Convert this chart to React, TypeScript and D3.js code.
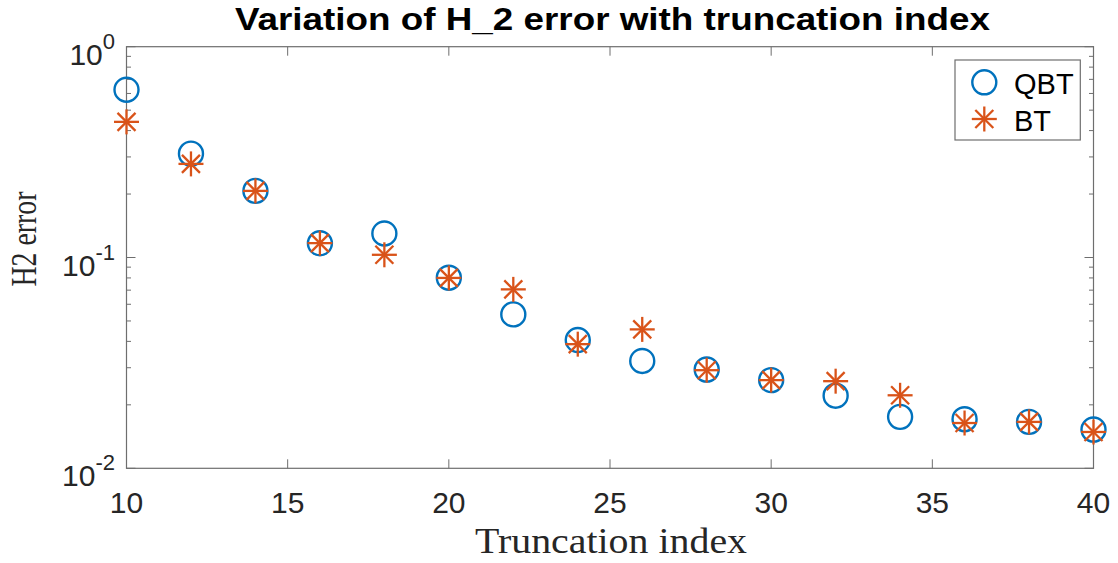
import React from "react";
import * as d3 from "d3";

const truncIndex = [10, 12, 14, 16, 18, 20, 22, 24, 26, 28, 30, 32, 34, 36, 38, 40];
const qbtError = [0.625, 0.311, 0.207, 0.1168, 0.130, 0.0802, 0.0537, 0.0406, 0.0323, 0.0294, 0.0262, 0.0221, 0.01754, 0.0171, 0.0166, 0.01527];
const btError = [0.44, 0.278, 0.207, 0.117, 0.103, 0.080, 0.0706, 0.0388, 0.0456, 0.0292, 0.0262, 0.0259, 0.0222, 0.0164, 0.0166, 0.01487];
const xTicks = [10, 15, 20, 25, 30, 35, 40];
const yTickExps = [0, -1, -2];
const seriesNames = ["QBT", "BT"];

const W = 1118;
const H = 563;
const L = 126.5, R = 1093.5, T = 46.7, B = 468.3;
const BLUE = "#0072BD";
const ORANGE = "#D95319";
const AX = "#6e6e6e";
const TXT = "#262626";
const SANS = "'Liberation Sans', Arial, Helvetica, sans-serif";
const SERIF = "'Liberation Serif', 'Times New Roman', serif";

function Star({ cx, cy, r }: { cx: number; cy: number; r: number }) {
  const d = r * 0.72;
  return (
    <g stroke={ORANGE} strokeWidth={2.3} strokeLinecap="butt">
      <line x1={cx - r} y1={cy} x2={cx + r} y2={cy} />
      <line x1={cx} y1={cy - r} x2={cx} y2={cy + r} />
      <line x1={cx - d} y1={cy - d} x2={cx + d} y2={cy + d} />
      <line x1={cx - d} y1={cy + d} x2={cx + d} y2={cy - d} />
    </g>
  );
}

export default function App() {
  const x = d3.scaleLinear().domain([10, 40]).range([L, R]);
  const y = d3.scaleLog().domain([0.01, 1]).range([B, T]);

  const minor: number[] = [];
  for (let e = -2; e < 0; e++) {
    for (let m = 2; m <= 9; m++) minor.push(m * Math.pow(10, e));
  }

  return (
    <svg width={W} height={H} style={{ position: "absolute", left: 0, top: 0, background: "#fff" }}>
      <rect x={0} y={0} width={W} height={H} fill="#fff" />
      {/* title */}
      <text x={612.5} y={30} textAnchor="middle" fontFamily={SANS} fontWeight="bold" fontSize={31}
        textLength={755} lengthAdjust="spacingAndGlyphs" fill="#000">
        Variation of H_2 error with truncation index
      </text>

      {/* axes box */}
      <rect x={L} y={T} width={R - L} height={B - T} fill="none" stroke={AX} strokeWidth={1.2} />

      {/* x ticks */}
      {xTicks.map((t) => (
        <g key={"xt" + t}>
          <line x1={x(t)} x2={x(t)} y1={B} y2={B - 9} stroke={AX} strokeWidth={1} />
          <line x1={x(t)} x2={x(t)} y1={T} y2={T + 9} stroke={AX} strokeWidth={1} />
          <text x={x(t)} y={513} textAnchor="middle" fontFamily={SANS} fontSize={30} fill={TXT}>
            {t}
          </text>
        </g>
      ))}

      {/* y major ticks */}
      {yTickExps.map((e) => {
        const yy = y(Math.pow(10, e));
        return (
          <g key={"yt" + e}>
            <line x1={L} x2={L + 9} y1={yy} y2={yy} stroke={AX} strokeWidth={1} />
            <line x1={R} x2={R - 9} y1={yy} y2={yy} stroke={AX} strokeWidth={1} />
            <text x={115} y={yy + 18} textAnchor="end" fontFamily={SANS} fill={TXT}>
              <tspan fontSize={30}>10</tspan>
              <tspan fontSize={22} dy={-16}>{String(e)}</tspan>
            </text>
          </g>
        );
      })}
      {/* y minor ticks */}
      {minor.map((v) => (
        <g key={"ym" + v}>
          <line x1={L} x2={L + 4.5} y1={y(v)} y2={y(v)} stroke={AX} strokeWidth={1} />
          <line x1={R} x2={R - 4.5} y1={y(v)} y2={y(v)} stroke={AX} strokeWidth={1} />
        </g>
      ))}

      {/* axis labels */}
      <text x={611} y={553} textAnchor="middle" fontFamily={SERIF} fontSize={36}
        textLength={272} lengthAdjust="spacingAndGlyphs" fill={TXT}>
        Truncation index
      </text>
      <text transform="translate(36,239) rotate(-90)" textAnchor="middle" fontFamily={SERIF} fontSize={35}
        textLength={95} lengthAdjust="spacingAndGlyphs" fill={TXT}>
        H2 error
      </text>

      {/* data */}
      {truncIndex.map((t, i) => (
        <circle key={"c" + t} cx={x(t)} cy={y(qbtError[i])} r={12} fill="none" stroke={BLUE} strokeWidth={2.4} />
      ))}
      {truncIndex.map((t, i) => (
        <Star key={"s" + t} cx={x(t)} cy={y(btError[i])} r={12.5} />
      ))}

      {/* legend */}
      <rect x={955} y={60} width={125.3} height={80} fill="#fff" stroke={AX} strokeWidth={1.2} />
      <circle cx={984.3} cy={82.3} r={12} fill="none" stroke={BLUE} strokeWidth={2.4} />
      <Star cx={984.3} cy={119} r={12.5} />
      <text x={1014} y={94} fontFamily={SANS} fontSize={29} fill="#000">{seriesNames[0]}</text>
      <text x={1014} y={131} fontFamily={SANS} fontSize={29} fill="#000">{seriesNames[1]}</text>
    </svg>
  );
}
